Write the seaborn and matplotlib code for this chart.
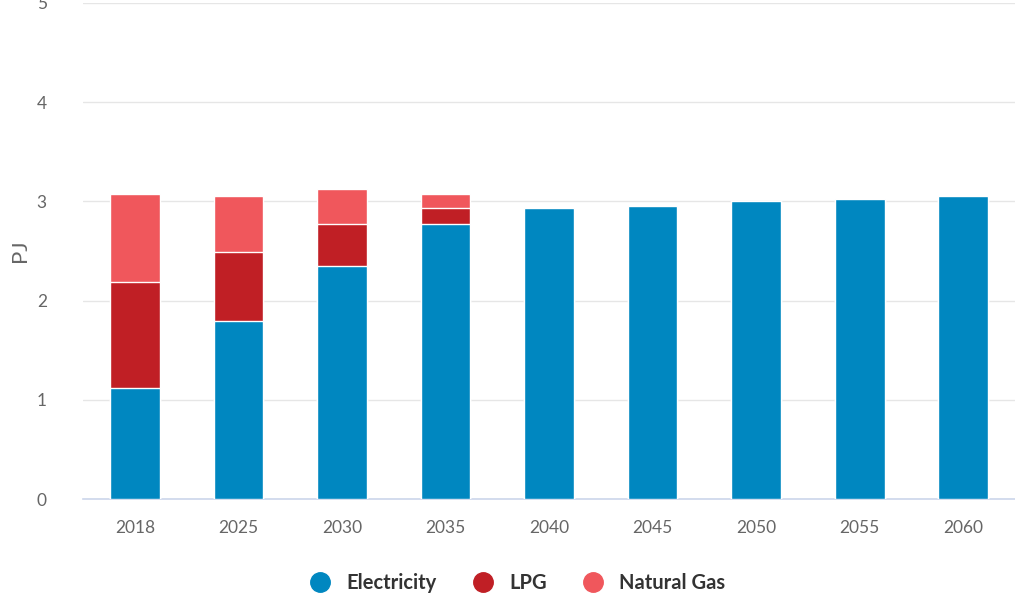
import numpy as np
import pandas as pd
import matplotlib
matplotlib.use("Agg")
import matplotlib.pyplot as plt
from matplotlib.lines import Line2D
import seaborn as sns

years = ["2018", "2025", "2030", "2035", "2040", "2045", "2050", "2055", "2060"]
electricity = [1.12, 1.79, 2.35, 2.77, 2.93, 2.95, 3.00, 3.02, 3.05]
lpg = [1.07, 0.70, 0.42, 0.16, 0, 0, 0, 0, 0]
natural_gas = [0.88, 0.56, 0.355, 0.14, 0, 0, 0, 0, 0]

series = ["Electricity", "LPG", "Natural Gas"]
colors = {"Electricity": "#0087C0", "LPG": "#C01F25", "Natural Gas": "#F0575C"}

sns.set_theme(style="white")
plt.rcParams["font.family"] = ["Lato", "DejaVu Sans"]

df = pd.DataFrame({"year": years, "Electricity": electricity, "LPG": lpg,
                   "Natural Gas": natural_gas})
# cumulative tops, drawn tallest first so segments stack visually
df["top_Natural Gas"] = df["Electricity"] + df["LPG"] + df["Natural Gas"]
df["top_LPG"] = df["Electricity"] + df["LPG"]
df["top_Electricity"] = df["Electricity"]

fig = plt.figure(figsize=(10.15, 5.95), dpi=100)
ax = fig.add_axes([0.0818, 0.1613, 0.9182, 0.8337])

for name in ["Natural Gas", "LPG", "Electricity"]:
    sns.barplot(data=df, x="year", y="top_" + name, color=colors[name],
                width=0.48, saturation=1, edgecolor="white", linewidth=1,
                ax=ax, zorder=3)

ax.set_ylim(0, 5)
ax.set_xlim(-0.5, 8.5)
ax.set_yticks([0, 1, 2, 3, 4, 5])
ax.yaxis.grid(True, color="#e6e6e6", linewidth=1, zorder=0)
ax.set_axisbelow(True)
for s in ["top", "right", "left"]:
    ax.spines[s].set_visible(False)
ax.spines["bottom"].set_color("#ccd6eb")
ax.spines["bottom"].set_linewidth(1.2)
ax.tick_params(axis="both", length=0, labelsize=12.5, labelcolor="#666666")
ax.tick_params(axis="y", pad=26)
ax.tick_params(axis="x", pad=15)
ax.set_xlabel("")
ax.set_ylabel("PJ", fontsize=16, color="#666666", labelpad=5)

handles = [Line2D([0], [0], marker="o", linestyle="", markersize=14,
                  markerfacecolor=colors[n], markeredgecolor=colors[n]) for n in series]
fig.legend(handles, series, loc="center", bbox_to_anchor=(0.505, 0.02),
           ncol=3, frameon=False, handletextpad=0.3, columnspacing=1.3,
           prop={"weight": "bold", "size": 14.5}, labelcolor="#333333")

fig.savefig("out.png", dpi=100)
